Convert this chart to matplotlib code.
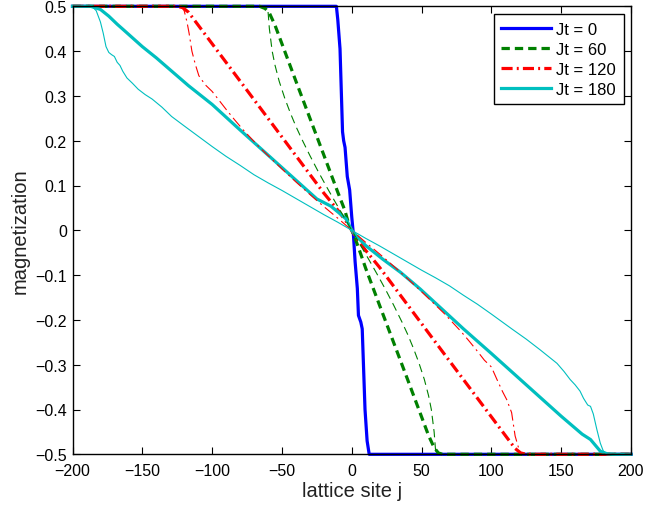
import matplotlib
matplotlib.use("Agg")
import matplotlib.pyplot as plt

plt.rcParams['font.family'] = ['Liberation Sans', 'DejaVu Sans']
plt.rcParams['lines.scale_dashes'] = False

# ---------------- data ----------------
labels = ["Jt = 0", "Jt = 60", "Jt = 120", "Jt = 180"]

# thick curves
j_t0 = [-200, -11, -10, -8.4, -6.6, -5.8, -4.8, -3.2, -1.5, 0, 1.2, 2.4, 4, 4.8, 6.5, 7.5, 9.5, 11, 12.5, 200]
m_t0 = [0.5, 0.5, 0.47, 0.405, 0.22, 0.2, 0.185, 0.12, 0.09, 0.03, -0.01, -0.07, -0.13, -0.19, -0.205, -0.22, -0.4, -0.47, -0.5, -0.5]

j_t60 = [-200, -66, -62, -59, -55, -40, -20, -10, -5, -2, 0, 2, 5, 10, 20, 40, 55, 59, 62, 65, 200]
m_t60 = [0.5, 0.5, 0.495, 0.485, 0.458, 0.333, 0.168, 0.085, 0.045, 0.012, 0.0, -0.015, -0.04, -0.085, -0.168, -0.333, -0.458, -0.485, -0.497, -0.5, -0.5]

j_t120 = [-200, -125, -121, -117, -110, -60, -20, -10, -4, 0, 4, 10, 20, 60, 110, 117, 121, 125, 200]
m_t120 = [0.5, 0.5, 0.497, 0.487, 0.458, 0.25, 0.083, 0.045, 0.02, 0.0, -0.02, -0.045, -0.083, -0.25, -0.458, -0.487, -0.497, -0.5, -0.5]

j_t180 = [-200, -187, -180, -174, -168, -164, -150, -140, -117, -100, -80, -60, -40, -25, -15, -8, -4, 0, 4, 10, 22, 35, 49, 80, 100, 120, 150, 165, 171, 178, 183, 187, 200]
m_t180 = [0.5, 0.5, 0.493, 0.478, 0.46, 0.449, 0.41, 0.385, 0.323, 0.281, 0.224, 0.168, 0.112, 0.07, 0.054, 0.036, 0.025, 0.0, -0.015, -0.034, -0.064, -0.094, -0.131, -0.22, -0.275, -0.331, -0.415, -0.455, -0.467, -0.493, -0.499, -0.5, -0.5]

# thin curves
j_n60 = [-200, -61, -60, -59, -57, -55, -52, -48, -44, -40, -36, -30, -24, -18, -12, -6, 0,
         6, 12, 18, 24, 30, 36, 40, 44, 48, 52, 55, 57, 59, 60, 61, 200]
m_n60 = [0.5, 0.5, 0.49, 0.45, 0.40, 0.369, 0.333, 0.295, 0.262, 0.232, 0.205, 0.167, 0.131, 0.097, 0.064, 0.032, 0.0,
         -0.032, -0.064, -0.097, -0.131, -0.167, -0.205, -0.232, -0.262, -0.295, -0.333, -0.369, -0.40, -0.45, -0.49, -0.5, -0.5]

j_n120 = [-200, -122, -120, -118, -116.5, -114.5, -112, -109.5, -105, -100, -95, -90, -84, -78, -72, -66, -60, -50, -40, -30, -20, -10, 0,
          10, 20, 30, 40, 50, 60, 66, 72, 78, 84, 90, 95, 100, 104, 108, 111, 114.5, 117, 119.5, 121, 200]
m_n120 = [0.5, 0.5, 0.49, 0.465, 0.44, 0.40, 0.37, 0.345, 0.325, 0.31, 0.29, 0.27, 0.247, 0.225, 0.205, 0.185, 0.167, 0.137, 0.108, 0.08, 0.053, 0.027, 0.0,
          -0.027, -0.053, -0.08, -0.108, -0.137, -0.167, -0.185, -0.205, -0.225, -0.247, -0.27, -0.29, -0.305, -0.333, -0.36, -0.378, -0.407, -0.459, -0.486, -0.5, -0.5]

j_n180 = [-200, -186, -183, -180, -178, -176, -174, -172, -170, -168, -166, -164, -161, -157, -153, -148, -143, -136, -129, -120, -110, -100, -90, -80, -70, -60, -50, -40, -30, -20, -10, 0,
          10, 20, 30, 40, 50, 60, 70, 80, 90, 100, 114.6, 125, 135, 141, 147, 152, 156.4, 160, 163.5, 166, 169, 171, 173, 175.5, 178, 180.2, 183, 200]
m_n180 = [0.5, 0.5, 0.49, 0.465, 0.44, 0.41, 0.397, 0.392, 0.388, 0.375, 0.368, 0.355, 0.34, 0.328, 0.315, 0.303, 0.293, 0.275, 0.254, 0.233, 0.21, 0.187, 0.165, 0.145, 0.124, 0.106, 0.089, 0.071, 0.053, 0.035, 0.018, 0.0,
          -0.018, -0.035, -0.053, -0.071, -0.089, -0.106, -0.124, -0.145, -0.165, -0.187, -0.22, -0.243, -0.267, -0.282, -0.297, -0.315, -0.333, -0.345, -0.359, -0.375, -0.39, -0.393, -0.41, -0.444, -0.475, -0.493, -0.5, -0.5]

x_ticks = [-200, -150, -100, -50, 0, 50, 100, 150, 200]
y_ticks = [-0.5, -0.4, -0.3, -0.2, -0.1, 0, 0.1, 0.2, 0.3, 0.4, 0.5]
x_ticklabels = ["\u2212200", "\u2212150", "\u2212100", "\u221250", "0", "50", "100", "150", "200"]
y_ticklabels = ["\u22120.5", "\u22120.4", "\u22120.3", "\u22120.2", "\u22120.1", "0", "0.1", "0.2", "0.3", "0.4", "0.5"]

# ---------------- styles ----------------
blue = (0, 0, 1)
green = (0, 0.5, 0)
red = (1, 0, 0)
cyan = (0, 0.75, 0.75)
dash = (0, (6.0, 3.6))
dashdot = (0, (8.0, 3.0, 1.4, 3.0))

fig = plt.figure(figsize=(6.45, 5.06), dpi=100)
ax = fig.add_axes([72.5 / 645, 1 - 455.3 / 506, (631 - 72.5) / 645, (455.3 - 7.3) / 506])

lw_thick = 2.3
lw_thin = 0.8

ax.plot(j_t0, m_t0, color=blue, lw=lw_thick, label=labels[0], clip_on=False)
ax.plot(j_t60, m_t60, color=green, lw=lw_thick, ls=dash, label=labels[1], clip_on=False)
ax.plot(j_t120, m_t120, color=red, lw=lw_thick, ls=dashdot, label=labels[2], clip_on=False)
ax.plot(j_t180, m_t180, color=cyan, lw=lw_thick, label=labels[3], clip_on=False)

ax.plot(j_n60, m_n60, color=green, lw=lw_thin, ls=dash, clip_on=False)
ax.plot(j_n120, m_n120, color=red, lw=lw_thin, ls=dashdot, clip_on=False)
ax.plot(j_n180, m_n180, color=cyan, lw=lw_thin, clip_on=False)

ax.set_xlim(-200, 200)
ax.set_ylim(-0.5, 0.5)
ax.set_xticks(x_ticks)
ax.set_yticks(y_ticks)
ax.set_xticklabels(x_ticklabels)
ax.set_yticklabels(y_ticklabels)
ax.tick_params(direction='in', top=True, right=True, length=5, width=0.8, labelsize=11.5, colors='black')
ax.tick_params(axis='x', pad=6.5)
ax.tick_params(axis='y', pad=4)
for s in ax.spines.values():
    s.set_linewidth(1.0)

ax.set_xlabel("lattice site j", fontsize=14.5, labelpad=2, color='#222222')
ax.set_ylabel("magnetization", fontsize=14.5, labelpad=4, color='#222222')

leg = ax.legend(loc='upper right', bbox_to_anchor=(0.987, 0.982), borderaxespad=0,
                fontsize=12, frameon=True, fancybox=False, handlelength=3.0,
                handletextpad=0.3, labelspacing=0.3, borderpad=0.45)
leg.get_frame().set_edgecolor('black')
leg.get_frame().set_linewidth(1.0)
leg.get_frame().set_alpha(1)

fig.savefig("out.png", dpi=100)
